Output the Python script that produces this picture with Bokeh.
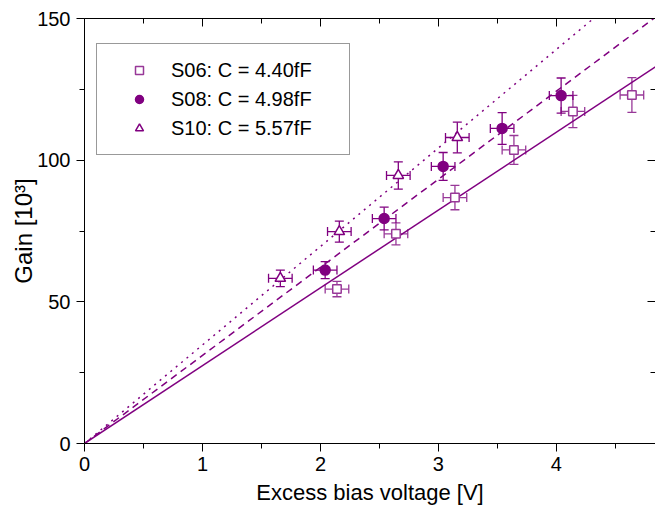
from bokeh.plotting import figure
from bokeh.models import (ColumnDataSource, Range1d, LinearAxis, FixedTicker,
                          Whisker, TeeHead, Legend, LegendItem)
from bokeh.embed import file_html
from bokeh.resources import INLINE

# ---- data ----
s06_v = [2.14, 2.64, 3.14, 3.64, 4.14, 4.64]
s06_g = [54.5, 74.0, 86.8, 103.6, 117.2, 123.0]
s06_err = [2.7, 3.9, 4.3, 5.1, 5.7, 6.1]

s08_v = [2.04, 2.54, 3.04, 3.54, 4.04]
s08_g = [61.2, 79.4, 97.8, 111.2, 122.8]
s08_err = [3.0, 4.0, 4.9, 5.6, 6.2]

s10_v = [1.66, 2.16, 2.66, 3.16]
s10_g = [58.3, 74.8, 94.6, 108.0]
s10_err = [2.9, 3.7, 4.8, 5.4]

v_err = 0.1

# fit slopes (gain per volt, 10^3) = C / e
fit_slopes = [27.47, 31.09, 34.77]
fit_v = [0.0, 4.9]

labels = ["S06: C = 4.40fF", "S08: C = 4.98fF", "S10: C = 5.57fF"]

x_ticks = [0, 1, 2, 3, 4]
x_minor = [0.5, 1.5, 2.5, 3.5, 4.5]
y_ticks = [0, 50, 100, 150]
y_minor = [25, 75, 125]

PURPLE = "#800080"
PURPLE_L = "#983898"
FONT = "Liberation Sans"

p = figure(width=655, height=512, x_range=Range1d(0, 4.84), y_range=Range1d(0, 150),
           output_backend="svg", toolbar_location=None,
           min_border_left=84, min_border_right=0, min_border_top=18, min_border_bottom=69)
p.grid.visible = False
p.outline_line_color = None
p.background_fill_color = "white"
p.border_fill_color = "white"

xt = FixedTicker(ticks=x_ticks, minor_ticks=x_minor)
yt = FixedTicker(ticks=y_ticks, minor_ticks=y_minor)

for ax in p.xaxis:
    ax.ticker = xt
    ax.axis_label = "Excess bias voltage [V]"
for ax in p.yaxis:
    ax.ticker = yt
    ax.axis_label = "Gain [10³]"

for ax in list(p.xaxis) + list(p.yaxis):
    ax.axis_line_color = "black"
    ax.major_tick_line_color = "black"
    ax.minor_tick_line_color = "black"
    ax.major_tick_out = 8
    ax.major_tick_in = 0
    ax.minor_tick_out = 5
    ax.minor_tick_in = 0
    ax.major_label_text_font = FONT
    ax.major_label_text_font_size = "20px"
    ax.major_label_text_color = "black"
    ax.axis_label_text_font = FONT
    ax.axis_label_text_font_size = "22px"
    ax.axis_label_text_font_style = "normal"
    ax.axis_label_text_color = "black"
p.yaxis.axis_label_text_font_size = "24px"
p.xaxis.major_label_standoff = 5
p.xaxis.axis_label_standoff = 6
p.yaxis.major_label_standoff = 6
p.yaxis.axis_label_standoff = -3


def mirror_axis(ticker, place, show_line=True):
    ax = LinearAxis(ticker=ticker)
    ax.major_tick_in = 8
    ax.major_tick_out = 0
    ax.minor_tick_in = 5
    ax.minor_tick_out = 0
    ax.major_label_text_font_size = "0px"
    ax.major_label_standoff = 0
    ax.major_label_text_alpha = 0
    ax.axis_line_color = "black" if show_line else None
    p.add_layout(ax, place)


mirror_axis(xt, "above", True)
mirror_axis(yt, "right", False)

# ---- fit lines ----
dashes = ["solid", "7 5", "2 5"]
for s, d in zip(fit_slopes, dashes):
    p.line(fit_v, [s * v for v in fit_v], line_color=PURPLE, line_width=1.5, line_dash=d)


# ---- error bars & markers ----
def add_series(xs, ys, errs, color, marker, size, fill):
    src = ColumnDataSource(dict(
        x=xs, y=ys,
        ylo=[y - e for y, e in zip(ys, errs)], yhi=[y + e for y, e in zip(ys, errs)],
        xlo=[x - v_err for x in xs], xhi=[x + v_err for x in xs]))
    wy = Whisker(base="x", lower="ylo", upper="yhi", source=src, dimension="height",
                 line_color=color, line_width=1.3,
                 lower_head=TeeHead(size=9, line_color=color, line_width=1.3),
                 upper_head=TeeHead(size=9, line_color=color, line_width=1.3))
    wx = Whisker(base="y", lower="xlo", upper="xhi", source=src, dimension="width",
                 line_color=color, line_width=1.3,
                 lower_head=TeeHead(size=9, line_color=color, line_width=1.3),
                 upper_head=TeeHead(size=9, line_color=color, line_width=1.3))
    p.add_layout(wy)
    p.add_layout(wx)
    r = p.scatter("x", "y", source=src, marker=marker, size=size,
                  line_color=color, fill_color=fill, line_width=1.5)
    return r


r1 = add_series(s06_v, s06_g, s06_err, PURPLE_L, "square", 8.5, "white")
r2 = add_series(s08_v, s08_g, s08_err, PURPLE, "circle", 10, PURPLE)
r3 = add_series(s10_v, s10_g, s10_err, PURPLE, "triangle", 10.5, "white")

legend = Legend(items=[LegendItem(label=labels[0], renderers=[r1]),
                       LegendItem(label=labels[1], renderers=[r2]),
                       LegendItem(label=labels[2], renderers=[r3])],
                location=(12, 288), padding=12, spacing=1, margin=0,
                glyph_width=60, glyph_height=20, label_height=28, label_width=166,
                label_standoff=2,
                label_text_font=FONT, label_text_font_size="20px", label_text_color="black",
                border_line_color="#333333", border_line_width=1,
                background_fill_color="white", background_fill_alpha=1)
p.add_layout(legend)

open("out.html", "w").write(file_html(p, INLINE))
